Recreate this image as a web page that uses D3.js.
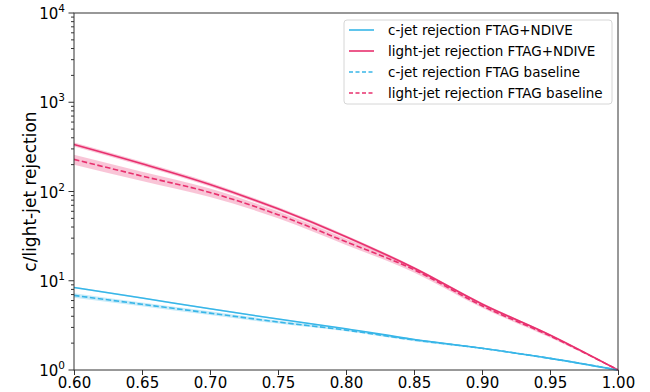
<!DOCTYPE html>
<html><head><meta charset="utf-8">
<script src="https://cdn.jsdelivr.net/npm/d3@7/dist/d3.min.js"></script>
<style>body{margin:0;background:#fff}svg{display:block;font-family:"DejaVu Sans",sans-serif}</style>
</head><body><svg id="c" width="650" height="392"></svg>
<script>
const effs = [0.60,0.65,0.70,0.75,0.80,0.85,0.90,0.95,1.00];
const cNdive = [8.4,6.4,4.85,3.72,2.90,2.20,1.75,1.35,1.0];
const cBase  = [6.85,5.45,4.34,3.45,2.80,2.17,1.75,1.35,1.0];
const lNdive = [337,205,120,64,31.2,13.9,5.5,2.47,1.0];
const lBase  = [229,149,97.5,55,27.4,13.3,5.24,2.41,1.0];
const cNdiveErr = [0.02,0.02,0.02,0.02,0.015,0.015,0.01,0.01,0];
const cBaseErr  = [0.06,0.05,0.05,0.04,0.03,0.03,0.02,0.02,0];
const lNdiveErr = [0.05,0.05,0.05,0.045,0.04,0.035,0.03,0.02,0];
const lBaseErr  = [0.13,0.12,0.11,0.09,0.08,0.07,0.05,0.04,0];
const xTicks = [0.60,0.65,0.70,0.75,0.80,0.85,0.90,0.95,1.00];
const yTicks = [1,10,100,1000,10000];
const labels = ["c-jet rejection FTAG+NDIVE","light-jet rejection FTAG+NDIVE","c-jet rejection FTAG baseline","light-jet rejection FTAG baseline"];
const yLabel = "c/light-jet rejection";

const CY = "#38b6e8", PK = "#e8306e";
const m = {l:74, r:618, t:13, b:370};
const svg = d3.select("#c");
const x = d3.scaleLinear().domain([0.6,1.0]).range([m.l,m.r]);
const y = d3.scaleLog().domain([1,10000]).range([m.b,m.t]);

const series = [
  {v:cNdive, e:cNdiveErr, c:CY, dash:null},
  {v:lNdive, e:lNdiveErr, c:PK, dash:null},
  {v:cBase, e:cBaseErr, c:CY, dash:"5.5,2.5"},
  {v:lBase, e:lBaseErr, c:PK, dash:"5.5,2.5"}
];
const area = d3.area().x(d=>x(d.x)).y0(d=>y(d.lo)).y1(d=>y(d.hi)).curve(d3.curveMonotoneX);
const line = d3.line().x(d=>x(d.x)).y(d=>y(d.v)).curve(d3.curveMonotoneX);
const g = svg.append("g");
series.forEach(s=>{
  const pts = effs.map((e,i)=>({x:e, v:s.v[i], lo:s.v[i]*(1-s.e[i]), hi:s.v[i]*(1+s.e[i])}));
  g.append("path").attr("d",area(pts)).attr("fill",s.c).attr("opacity",0.28);
});
series.forEach(s=>{
  const pts = effs.map((e,i)=>({x:e, v:s.v[i]}));
  g.append("path").attr("d",line(pts)).attr("fill","none").attr("stroke",s.c)
   .attr("stroke-width",1.6).attr("stroke-dasharray",s.dash);
});

// frame
svg.append("rect").attr("x",m.l).attr("y",m.t).attr("width",m.r-m.l).attr("height",m.b-m.t)
  .attr("fill","none").attr("stroke","#333").attr("stroke-width",1);

// x axis
const xa = svg.append("g").attr("transform",`translate(0,${m.b})`)
  .call(d3.axisBottom(x).tickValues(xTicks).tickFormat(d3.format(".2f")).tickSizeOuter(0).tickSize(5).tickPadding(2));
xa.select(".domain").remove();
xa.selectAll("line").attr("stroke","#333");
xa.selectAll("text").attr("font-size",15).attr("fill","#000").attr("font-family","DejaVu Sans");

// y axis
const ya = svg.append("g").attr("transform",`translate(${m.l},0)`);
const minor = [];
for (let d=1; d<10000; d*=10) for (let k=2;k<10;k++) minor.push(d*k);
ya.selectAll(".mn").data(minor).join("line").attr("x1",0).attr("x2",-3).attr("y1",d=>y(d)).attr("y2",d=>y(d)).attr("stroke","#333");
ya.selectAll(".mj").data(yTicks).join("line").attr("x1",0).attr("x2",-5.5).attr("y1",d=>y(d)).attr("y2",d=>y(d)).attr("stroke","#333");
const tl = ya.selectAll(".tl").data(yTicks).join("text").attr("x",-9).attr("y",d=>y(d)+6)
  .attr("text-anchor","end").attr("font-size",15).attr("fill","#000");
tl.append("tspan").text("10");
tl.append("tspan").attr("dy",-7).attr("font-size",10.5).text(d=>Math.round(Math.log10(d)));

svg.append("text").attr("transform",`translate(36,${(m.t+m.b)/2}) rotate(-90)`)
  .attr("text-anchor","middle").attr("font-size",17).attr("fill","#000").text(yLabel);

// legend
const lg = svg.append("g");
lg.append("rect").attr("x",344).attr("y",20).attr("width",268).attr("height",84).attr("rx",3)
  .attr("fill","#fff").attr("fill-opacity",0.8).attr("stroke","#d6d6d6");
labels.forEach((t,i)=>{
  const yy = 30 + i*21;
  lg.append("line").attr("x1",349).attr("x2",374).attr("y1",yy).attr("y2",yy)
    .attr("stroke",series[i].c).attr("stroke-width",1.6).attr("stroke-dasharray",series[i].dash ? "4,2.5":null);
  lg.append("text").attr("x",388).attr("y",yy+4.5).attr("font-size",13.5).attr("fill","#000").text(t);
});
</script></body></html>
